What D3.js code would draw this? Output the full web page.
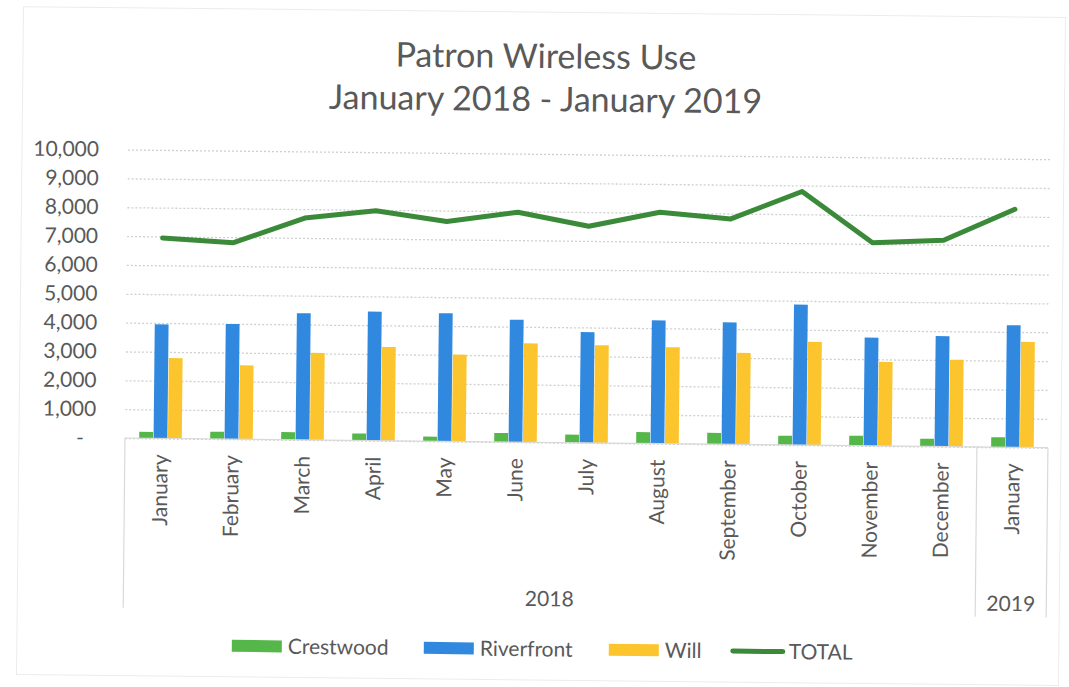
<!DOCTYPE html>
<html>
<head>
<meta charset="utf-8">
<script src="https://cdn.jsdelivr.net/npm/d3@7"></script>
<style>
  body { margin: 0; background: #fff; }
  svg { display: block; }
  text { font-family: Lato, "Open Sans", sans-serif; fill: #595959; }
</style>
</head>
<body>
<svg id="chart" width="1069" height="687"></svg>
<script>
// Monthly patron wireless sessions by branch, Jan 2018 - Jan 2019
const months = ["January", "February", "March", "April", "May", "June", "July",
                "August", "September", "October", "November", "December", "January"];
const yearGroups = ["2018", "2019"];
const yearOfMonth = ["2018", "2018", "2018", "2018", "2018", "2018", "2018",
                     "2018", "2018", "2018", "2018", "2018", "2019"];
const crestwood  = [220, 250, 265, 240, 160, 310, 280, 390, 390, 320, 345, 265, 345];
const riverfront = [3950, 3990, 4390, 4470, 4440, 4240, 3840, 4270, 4230, 4870, 3750, 3830, 4230];
const will       = [2790, 2560, 3020, 3250, 3010, 3430, 3390, 3345, 3175, 3585, 2915, 3015, 3660];
const total      = [6950, 6810, 7690, 7970, 7620, 7970, 7510, 8020, 7815, 8790, 7040, 7150, 8250];
const yTicks = [0, 1000, 2000, 3000, 4000, 5000, 6000, 7000, 8000, 9000, 10000];
const seriesNames = ["Crestwood", "Riverfront", "Will"];
const seriesValues = [crestwood, riverfront, will];
const colors = { Crestwood: "#55b74a", Riverfront: "#3189df", Will: "#fcc52d", TOTAL: "#3b8a3a" };

const svg = d3.select("#chart");
// the sheet sits slightly askew on the page
const page = svg.append("g").attr("transform", "rotate(0.6,534,343)");

// faint chart-area frame
page.append("rect")
  .attr("x", 20).attr("y", 12).attr("width", 1042).attr("height", 668)
  .attr("fill", "none").attr("stroke", "#ececec").attr("stroke-width", 1);

const plot = { left: 126, right: 1049, top: 153.8, bottom: 442.3 };

const x0 = d3.scaleBand().domain(d3.range(months.length)).range([plot.left, plot.right]);
const bw = x0.bandwidth();
const x1 = d3.scaleBand().domain(seriesNames).range([bw * 0.2, bw * 0.8]).paddingInner(0.04);
const y = d3.scaleLinear().domain([0, 10000]).range([plot.bottom, plot.top]);

// title
const title = page.append("text").attr("text-anchor", "middle").style("font-size", "34px");
title.append("tspan").attr("x", 543).attr("y", 68).text("Patron Wireless Use");
title.append("tspan").attr("x", 543).attr("y", 111).text("January 2018 - January 2019");

// dotted gridlines
const grid = page.append("g")
  .attr("transform", `translate(${plot.left},0)`)
  .call(d3.axisLeft(y).tickValues(yTicks).tickSize(-(plot.right - plot.left)).tickFormat(""));
grid.select(".domain").remove();
grid.selectAll(".tick line")
  .attr("stroke", "#cfcfcf").attr("stroke-width", 1.3).attr("stroke-dasharray", "2,2");

// value axis labels
const yAxis = page.append("g")
  .attr("transform", `translate(${plot.left - 29},0)`)
  .call(d3.axisLeft(y).tickValues(yTicks).tickSize(0).tickPadding(0)
    .tickFormat(d => d === 0 ? "-" : d3.format(",")(d)));
yAxis.select(".domain").remove();
yAxis.selectAll("text").style("font-size", "21px").attr("fill", "#595959");
yAxis.selectAll(".tick").filter(d => d === 0).select("text").attr("x", -12);

// bars
const groups = page.append("g").selectAll("g")
  .data(d3.range(months.length)).join("g")
  .attr("transform", i => `translate(${x0(i)},0)`);
groups.selectAll("rect")
  .data(i => seriesNames.map((name, k) => ({ name, value: seriesValues[k][i] })))
  .join("rect")
  .attr("x", d => x1(d.name))
  .attr("width", x1.bandwidth())
  .attr("y", d => y(d.value))
  .attr("height", d => y(0) - y(d.value))
  .attr("fill", d => colors[d.name]);

// category axis: baseline and group boxes
const axisG = page.append("g").attr("stroke", "#d9d9d9").attr("stroke-width", 1.2).attr("fill", "none");
axisG.append("line").attr("x1", plot.left).attr("x2", plot.right).attr("y1", y(0)).attr("y2", y(0));
const yearEdges = [plot.left];
yearGroups.forEach(yr => {
  const idx = d3.range(months.length).filter(i => yearOfMonth[i] === yr);
  yearEdges.push(x0(d3.max(idx)) + bw);
});
yearEdges.forEach(ex => {
  axisG.append("line").attr("x1", ex).attr("x2", ex).attr("y1", y(0)).attr("y2", 612);
});

// month labels
const xAxis = page.append("g")
  .attr("transform", `translate(0,${plot.bottom})`)
  .call(d3.axisBottom(x0).tickSize(0).tickFormat(i => months[i]));
xAxis.select(".domain").remove();
xAxis.selectAll("text")
  .attr("transform", "rotate(-90)")
  .attr("x", -16).attr("y", 0).attr("dy", "0.35em")
  .attr("text-anchor", "end")
  .style("font-size", "21px").attr("fill", "#595959");

// year labels
yearGroups.forEach(yr => {
  const idx = d3.range(months.length).filter(i => yearOfMonth[i] === yr);
  const cx = (x0(d3.min(idx)) + x0(d3.max(idx)) + bw) / 2;
  page.append("text").attr("x", cx).attr("y", 606).attr("text-anchor", "middle")
    .style("font-size", "21px").text(yr);
});

// total line
const line = d3.line().x((d, i) => x0(i) + bw / 2).y(d => y(d));
page.append("path").datum(total)
  .attr("d", line).attr("fill", "none")
  .attr("stroke", colors.TOTAL).attr("stroke-width", 5)
  .attr("stroke-linejoin", "round").attr("stroke-linecap", "round");

// legend
const legendItems = [
  { name: "Crestwood", type: "rect", x: 235 },
  { name: "Riverfront", type: "rect", x: 427 },
  { name: "Will", type: "rect", x: 612 },
  { name: "TOTAL", type: "line", x: 736 }
];
const legend = page.append("g").attr("transform", "translate(0,649)");
legendItems.forEach(it => {
  if (it.type === "rect") {
    legend.append("rect").attr("x", it.x).attr("y", -6).attr("width", 50).attr("height", 12)
      .attr("fill", colors[it.name]);
  } else {
    legend.append("line").attr("x1", it.x).attr("x2", it.x + 50).attr("y1", 0).attr("y2", 0)
      .attr("stroke", colors[it.name]).attr("stroke-width", 5).attr("stroke-linecap", "round");
  }
  legend.append("text").attr("x", it.x + 56).attr("y", 0).attr("dy", "0.35em")
    .style("font-size", "21px").text(it.name);
});
</script>
</body>
</html>
